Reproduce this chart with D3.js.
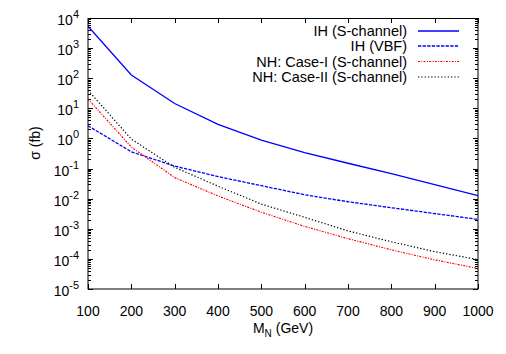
<!DOCTYPE html>
<html>
<head>
<meta charset="utf-8">
<script src="https://cdn.jsdelivr.net/npm/d3@7"></script>
<style>
  body { margin: 0; background: #fff; }
  svg { display: block; font-family: "Liberation Sans", Arial, sans-serif; }
</style>
</head>
<body>
<div id="chart"></div>
<script>
// masses (GeV)
var masses = [100, 200, 300, 400, 500, 600, 700, 800, 900, 1000];
// cross sections (fb)
var ihSchannel = [5300, 128, 14.5, 2.95, 0.88, 0.34, 0.15, 0.068, 0.029, 0.0126];
var ihVBF = [2.64, 0.36, 0.121, 0.054, 0.027, 0.0135, 0.0079, 0.005, 0.0032, 0.00205];
var nhCase1 = [20.4, 0.52, 0.05, 0.0123, 0.00355, 0.0012, 0.00047, 0.0002, 0.000093, 0.000048];
var nhCase2 = [40, 0.95, 0.11, 0.026, 0.0066, 0.0024, 0.00085, 0.00037, 0.000174, 0.000095];

var seriesNames = ["IH (S-channel)", "IH (VBF)", "NH: Case-I (S-channel)", "NH: Case-II (S-channel)"];
var xTicks = [100, 200, 300, 400, 500, 600, 700, 800, 900, 1000];
var yExponents = [4, 3, 2, 1, 0, -1, -2, -3, -4, -5];

var w = 506, h = 354;
var padL = 88, padR = 478, padT = 18, padB = 289;

var svg = d3.select("#chart").append("svg")
  .attr("width", w)
  .attr("height", h);

var x = d3.scaleLinear().domain([100, 1000]).range([padL, padR]);
var y = d3.scaleLog().domain([1e-5, 1e4]).range([padB, padT]);

// ticks (inward, on all four sides)
var tickG = svg.append("g").attr("stroke", "#000").attr("stroke-width", 1);
xTicks.forEach(function(t) {
  var px = Math.round(x(t)) + 0.5;
  tickG.append("line").attr("x1", px).attr("x2", px).attr("y1", padB).attr("y2", padB - 5);
  tickG.append("line").attr("x1", px).attr("x2", px).attr("y1", padT).attr("y2", padT + 5);
});
for (var e = -5; e < 4; e++) {
  for (var m = 1; m < 10; m++) {
    var v = m * Math.pow(10, e);
    var py = Math.round(y(v)) + 0.5;
    var len = m === 1 ? 5 : 3;
    tickG.append("line").attr("x1", padL).attr("x2", padL + len).attr("y1", py).attr("y2", py);
    tickG.append("line").attr("x1", padR).attr("x2", padR - len).attr("y1", py).attr("y2", py);
  }
}

// tick labels
svg.selectAll("text.xt")
  .data(xTicks)
  .enter()
  .append("text")
  .attr("class", "xt")
  .attr("x", function(d) { return x(d); })
  .attr("y", 316)
  .attr("text-anchor", "middle")
  .attr("font-size", "14px")
  .text(function(d) { return d; });

var yl = svg.selectAll("text.yt")
  .data(yExponents)
  .enter()
  .append("text")
  .attr("class", "yt")
  .attr("x", 79)
  .attr("y", function(d) { return y(Math.pow(10, d)) + 7; })
  .attr("text-anchor", "end")
  .attr("font-size", "14px");
yl.append("tspan").text("10");
yl.append("tspan")
  .attr("dy", -7)
  .attr("font-size", "11px")
  .text(function(d) { return d < 0 ? "-" + (-d) : d; });

// axis titles
var xt = svg.append("text")
  .attr("x", 283)
  .attr("y", 333)
  .attr("text-anchor", "middle")
  .attr("font-size", "14px");
xt.append("tspan").text("M");
xt.append("tspan").attr("dy", 4).attr("font-size", "10px").text("N");
xt.append("tspan").attr("dy", -4).text(" (GeV)");

svg.append("text")
  .attr("transform", "translate(40,143) rotate(-90)")
  .attr("text-anchor", "middle")
  .attr("font-size", "14px")
  .text("σ (fb)");

// curves
svg.append("clipPath").attr("id", "clip")
  .append("rect").attr("x", padL).attr("y", padT).attr("width", padR - padL).attr("height", padB - padT);

var styles = [
  { color: "#0000ff", dash: null, width: 1.3 },
  { color: "#0000ff", dash: "3.3,1.3", width: 1.3 },
  { color: "#ff0000", dash: "2,1.3,1,1.3", width: 1.2 },
  { color: "#000000", dash: "1.3,2", width: 1.2 }
];
var allSeries = [ihSchannel, ihVBF, nhCase1, nhCase2];

var line = d3.line()
  .x(function(d, i) { return x(masses[i]); })
  .y(function(d) { return y(d); });

var curves = svg.append("g").attr("clip-path", "url(#clip)");
allSeries.forEach(function(s, k) {
  curves.append("path")
    .datum(s)
    .attr("d", line)
    .attr("fill", "none")
    .attr("stroke", styles[k].color)
    .attr("stroke-width", styles[k].width)
    .attr("stroke-dasharray", styles[k].dash);
});

// frame
svg.append("rect")
  .attr("x", padL).attr("y", padT + 0.5)
  .attr("width", padR - padL).attr("height", padB - padT - 0.5)
  .attr("fill", "none")
  .attr("stroke", "#000")
  .attr("stroke-width", 1);

// legend
var legendRows = [31, 46, 61.5, 77];
seriesNames.forEach(function(name, k) {
  svg.append("text")
    .attr("x", 407)
    .attr("y", legendRows[k] + 5)
    .attr("text-anchor", "end")
    .attr("font-size", "14.5px")
    .text(name);
  svg.append("line")
    .attr("x1", 418).attr("x2", 459)
    .attr("y1", legendRows[k]).attr("y2", legendRows[k])
    .attr("stroke", styles[k].color)
    .attr("stroke-width", styles[k].width)
    .attr("stroke-dasharray", styles[k].dash);
});
</script>
</body>
</html>
